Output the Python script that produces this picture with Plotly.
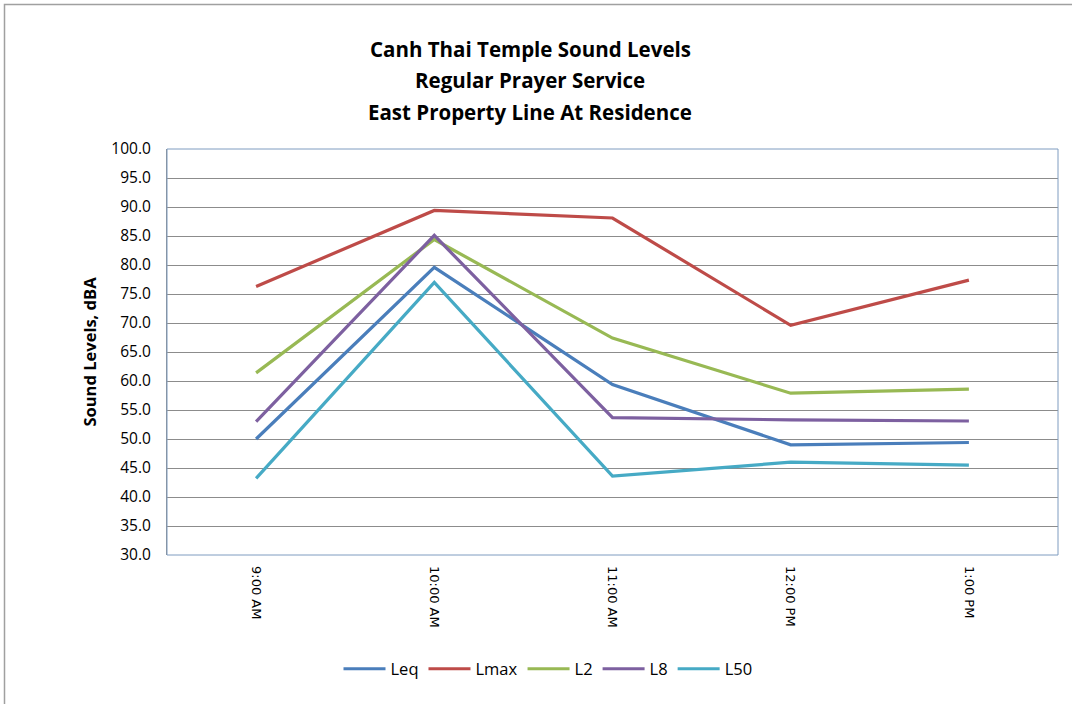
import plotly.graph_objects as go

times = ["9:00 AM", "10:00 AM", "11:00 AM", "12:00 PM", "1:00 PM"]
leq = [50.0, 79.6, 59.4, 49.0, 49.4]
lmax = [76.3, 89.4, 88.1, 69.6, 77.4]
l2 = [61.4, 84.4, 67.4, 57.9, 58.6]
l8 = [53.0, 85.1, 53.7, 53.3, 53.1]
l50 = [43.2, 77.0, 43.6, 46.0, 45.5]
title_lines = ["Canh Thai Temple Sound Levels", "Regular Prayer Service",
               "East Property Line At Residence"]

series = [
    ("Leq", leq, "#4A7EBB"),
    ("Lmax", lmax, "#BE4B48"),
    ("L2", l2, "#98B954"),
    ("L8", l8, "#7D60A0"),
    ("L50", l50, "#46AAC5"),
]

fig = go.Figure()
for name, vals, col in series:
    fig.add_trace(go.Scatter(
        x=times, y=vals, name=name, mode="lines",
        line=dict(color=col, width=3.2),
    ))

L, R, T, B = 167, 14, 149, 149
W, H = 1072, 704
pw = W - L - R
ph = H - T - B

def px_x(p):
    return (p - L) / pw

def px_y(p):
    return (H - B - p) / ph

annotations = []
for i, line in enumerate(title_lines):
    annotations.append(dict(
        text=line, xref="paper", yref="paper",
        x=px_x(530), y=px_y(49 + 31.5 * i),
        xanchor="center", yanchor="middle", showarrow=False,
        font=dict(family="Open Sans", size=20.5, color="black", weight="bold"),
    ))

fig.update_layout(
    width=W, height=H,
    margin=dict(l=L, r=R, t=T, b=B),
    paper_bgcolor="white",
    plot_bgcolor="white",
    font=dict(family="Open Sans", color="black"),
    showlegend=True,
    annotations=annotations,
    legend=dict(
        orientation="h",
        x=px_x(548), xanchor="center",
        y=px_y(669), yanchor="middle",
        font=dict(family="Open Sans", size=16.5, color="black"),
        itemwidth=42,
        bgcolor="rgba(0,0,0,0)",
    ),
    xaxis=dict(
        type="category",
        range=[-0.5, 4.5],
        tickangle=90,
        tickfont=dict(family="DejaVu Sans", size=13, color="black"),
        ticklabelstandoff=10,
        showgrid=False,
        showline=False,
        ticks="",
    ),
    yaxis=dict(
        range=[30, 100],
        dtick=5,
        tickformat=".1f",
        tickfont=dict(family="Open Sans", size=15.5, color="black"),
        ticklabelstandoff=12,
        showgrid=True,
        gridcolor="#8C8C8C",
        gridwidth=1,
        zeroline=False,
        showline=True,
        linecolor="#8C8C8C",
        ticks="",
        title=dict(text="Sound Levels, dBA",
                   font=dict(family="Open Sans", size=16.5, color="black", weight="bold"),
                   standoff=10),
    ),
    shapes=[
        dict(type="rect", xref="paper", yref="paper",
             x0=0, x1=1, y0=0, y1=1,
             line=dict(color="#7F9CC0", width=1), layer="above"),
        dict(type="rect", xref="paper", yref="paper",
             x0=px_x(4.5), x1=px_x(1090), y0=px_y(720), y1=px_y(4.5),
             line=dict(color="#A0A0A0", width=1.5), layer="below"),
    ],
)

fig.write_html("out.html")
